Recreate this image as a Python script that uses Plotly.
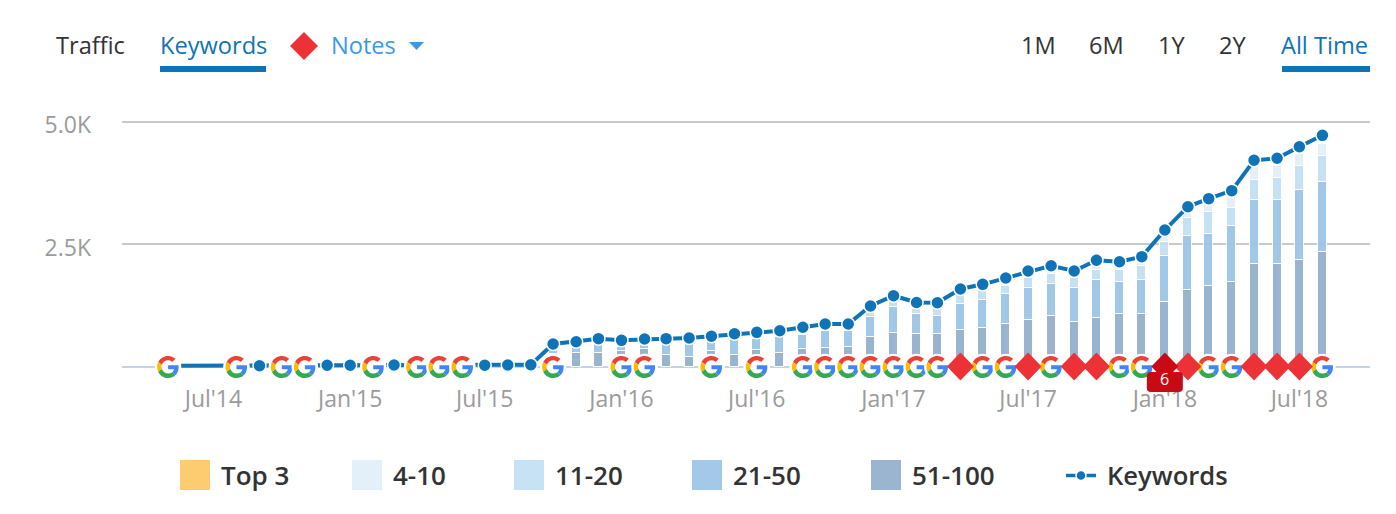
import base64
import plotly.graph_objects as go

W, H = 1396, 514
L, R, T, B = 122, 26, 100, 131

months = [f"{y}-{m:02d}-01" for y in range(2014, 2019) for m in range(1, 13)][4:56]

keywords = [20, 20, 20, 20, 20, 20, 25, 30,
            30, 30, 35, 30, 30, 30, 30, 35, 40, 464, 511, 573,
            540, 566, 573, 587, 622, 675, 703, 736, 806, 873, 873, 1241,
            1452, 1313, 1309, 1589, 1685, 1814, 1957, 2065, 1957, 2176, 2147, 2250,
            2795, 3272, 3436, 3600, 4221, 4262, 4499, 4732]

lead = [0] * 17
top3 = [0] * 52
r4_10 = lead + [0, 0, 0,
                0, 0, 0, 0, 0, 0, 0, 0, 0, 0, 0, 27,
                27, 41, 41, 48, 41, 55, 55, 55, 55, 96, 68, 82,
                137, 123, 150, 219, 273, 246, 246, 246]
r11_20 = lead + [0, 30, 30,
                 30, 20, 0, 0, 0, 0, 0, 0, 0, 0, 0, 96,
                 123, 96, 137, 184, 178, 164, 205, 205, 205, 205, 246, 287,
                 287, 369, 451, 369, 410, 451, 492, 533]
r21_50 = lead + [100, 102, 184,
                 89, 96, 225, 287, 178, 328, 219, 328, 287, 342, 328, 410,
                 533, 410, 369, 533, 574, 615, 656, 656, 697, 779, 656, 697,
                 943, 1106, 1065, 1147, 1311, 1311, 1434, 1434]
r51_100 = lead + [250, 287, 273,
                  321, 355, 232, 191, 328, 232, 342, 273, 355, 382, 396, 601,
                  683, 669, 669, 751, 792, 874, 956, 1038, 915, 997, 1079, 1079,
                  1325, 1571, 1653, 1735, 2104, 2104, 2186, 2350]

google_dates = ["2014-05-01", "2014-08-01", "2014-10-01", "2014-11-01", "2015-02-01", "2015-04-01",
                "2015-05-01", "2015-06-01", "2015-10-01", "2016-01-01", "2016-02-01", "2016-05-01",
                "2016-07-01", "2016-09-01", "2016-10-01", "2016-11-01", "2016-12-01", "2017-01-01",
                "2017-02-01", "2017-03-01", "2017-05-01", "2017-06-01", "2017-08-01", "2017-11-01",
                "2017-12-01", "2018-03-01", "2018-04-01", "2018-08-01"]
note_dates = ["2017-04-01", "2017-07-01", "2017-09-01", "2017-10-01", "2018-02-01",
              "2018-05-01", "2018-06-01", "2018-07-01"]
badge_date = "2018-01-01"
badge_text = "6"

legend_items = [("Top 3", "#FDCC70", 180), ("4-10", "#E3F0F9", 352), ("11-20", "#C7E1F5", 514),
                ("21-50", "#A3C8E9", 692), ("51-100", "#9BB5D0", 871)]
bar_series = [("51-100", r51_100, "#93AFCC"), ("21-50", r21_50, "#9CC4E7"),
              ("11-20", r11_20, "#C3DFF4"), ("4-10", r4_10, "#E1EFF8"),
              ("Top 3", top3, "#FDCC70")]

BLUE = "#0F73B8"
FONT = "Open Sans"

G_SVG = ('<svg xmlns="http://www.w3.org/2000/svg" viewBox="-6 -6 60 60" width="120" height="120">'
         '<circle cx="24" cy="24" r="29" fill="#fff"/>'
         '<path fill="#EA4335" d="M24 9.5c3.54 0 6.71 1.22 9.21 3.6l6.85-6.85C35.9 2.38 30.47 0 24 0 14.62 0 6.51 5.38 2.56 13.22l7.98 6.19C12.43 13.72 17.74 9.5 24 9.5z"/>'
         '<path fill="#4285F4" d="M46.98 24.55c0-1.57-.15-3.09-.38-4.55H24v9.02h12.94c-.58 2.96-2.26 5.48-4.78 7.18l7.73 6c4.51-4.18 7.09-10.36 7.09-17.65z"/>'
         '<path fill="#FBBC05" d="M10.53 28.59c-.48-1.45-.76-2.99-.76-4.59s.27-3.14.76-4.59l-7.98-6.19C.92 16.46 0 20.12 0 24c0 3.88.92 7.54 2.56 10.78l7.97-6.19z"/>'
         '<path fill="#34A853" d="M24 48c6.48 0 11.93-2.13 15.89-5.81l-7.73-6c-2.15 1.45-4.92 2.3-8.16 2.3-6.26 0-11.57-4.22-13.47-9.91l-7.98 6.19C6.51 42.62 14.62 48 24 48z"/>'
         '</svg>')


def diamond_svg(color):
    return ('<svg xmlns="http://www.w3.org/2000/svg" viewBox="0 0 100 100" width="120" height="120">'
            f'<polygon points="50,0 100,50 50,100 0,50" fill="{color}"/></svg>')


def uri(svg):
    return "data:image/svg+xml;base64," + base64.b64encode(svg.encode()).decode()


def px(x):
    return (x - L) / (W - L - R)


def py(y):
    return 1 - (y - T) / (H - T - B)


PX_MS = 86400000 / 0.7431   # ms per pixel on the date axis
PX_VAL = 20.45              # value per pixel on the y axis
BAR_W = 9 * PX_MS

fig = go.Figure()
for name, vals, col in bar_series:
    fig.add_trace(go.Bar(x=months, y=vals, name=name, width=BAR_W, opacity=0.93,
                         marker=dict(color=col, line=dict(color="#fff", width=1))))

hidden = {"2014-06-01", "2014-07-01"}
fig.add_trace(go.Scatter(x=months, y=keywords, name="Keywords", mode="lines+markers",
                         line=dict(color=BLUE, width=4),
                         marker=dict(color=BLUE, opacity=1, line=dict(color="#fff", width=1.5),
                                     size=[0 if m in hidden else 13 for m in months])))

images = []
for d in google_dates:
    images.append(dict(source=uri(G_SVG), xref="x", yref="y", x=d, y=-5,
                       sizex=27.5 * PX_MS, sizey=27.5 * PX_VAL, xanchor="center", yanchor="middle",
                       sizing="stretch", layer="above"))
for d in note_dates + [badge_date]:
    col = "#C90A14" if d == badge_date else "#EC3237"
    images.append(dict(source=uri(diamond_svg(col)), xref="x", yref="y", x=d, y=5,
                       sizex=27 * PX_MS, sizey=28 * PX_VAL, xanchor="center", yanchor="middle",
                       sizing="stretch", layer="above"))
# header diamond
images.append(dict(source=uri(diamond_svg("#EC3237")), xref="paper", yref="paper", x=px(290), y=py(32),
                   sizex=28 / (W - L - R), sizey=28 / (H - T - B), xanchor="left", yanchor="top",
                   sizing="stretch", layer="above"))

shapes = [
    dict(type="rect", xref="paper", yref="paper", x0=px(160), x1=px(266), y0=py(66), y1=py(72),
         fillcolor=BLUE, line_width=0),
    dict(type="rect", xref="paper", yref="paper", x0=px(1282), x1=px(1370), y0=py(66), y1=py(72),
         fillcolor=BLUE, line_width=0),
    dict(type="path", xref="paper", yref="paper",
         path=f"M {px(409)} {py(42)} L {px(424)} {py(42)} L {px(416.5)} {py(50)} Z",
         fillcolor="#3A9AE3", line_width=0),
    # note-count badge, anchored to its date
    dict(type="path", xref="x", xsizemode="pixel", xanchor=badge_date, yref="paper",
         ysizemode="pixel", yanchor=py(382),
         path="M -14 -10 L 14 -10 Q 18 -10 18 -6 L 18 6 Q 18 10 14 10 L -14 10 Q -18 10 -18 6 L -18 -6 Q -18 -10 -14 -10 Z",
         fillcolor="#C90A14", line_width=0, layer="above"),
    # legend line icon
    dict(type="line", xref="paper", yref="paper", x0=px(1066), x1=px(1096), y0=py(475.5), y1=py(475.5),
         line=dict(color=BLUE, width=3.5)),
    dict(type="circle", xref="paper", yref="paper", x0=px(1076), x1=px(1086), y0=py(480.5), y1=py(470.5),
         fillcolor=BLUE, line=dict(color="#fff", width=1.5)),
]

annots = []


def text(s, x, y, color, size=23.6, anchor="left", weight=None, xref="paper", yref="paper"):
    f = dict(family=FONT, size=size, color=color)
    if weight:
        f["weight"] = weight
    annots.append(dict(text=s, x=x, y=y, xref=xref, yref=yref, xanchor=anchor, yanchor="middle",
                       showarrow=False, font=f))


text("Traffic", px(54), py(45), "#333333")
text("Keywords", px(158), py(45), BLUE)
text("Notes", px(329), py(45), "#3A9AE3")
text("1M", px(1019), py(45), "#333333")
text("6M", px(1087), py(45), "#333333")
text("1Y", px(1156), py(45), "#333333")
text("2Y", px(1217), py(45), "#333333")
text("All Time", px(1279), py(45), BLUE)
text(badge_text, badge_date, py(379), "#ffffff", size=16, anchor="center", xref="x")

for name, col, x0 in legend_items:
    shapes.append(dict(type="rect", xref="paper", yref="paper", x0=px(x0), x1=px(x0 + 30),
                       y0=py(460), y1=py(490), fillcolor=col, line_width=0))
    text(name, px(x0 + 39), py(475), "#333333", size=26, weight=600)
text("Keywords", px(1105), py(475), "#333333", size=25.6, weight=600)

fig.update_layout(
    width=W, height=H, margin=dict(l=L, r=R, t=T, b=B),
    barmode="stack", bargap=0, showlegend=False, hovermode=False,
    plot_bgcolor="#fff", paper_bgcolor="#fff",
    images=images, shapes=shapes, annotations=annots,
    xaxis=dict(type="date", range=["2014-02-28", "2018-10-04"], tickvals=months[2::6],
               tickformat="%b'%y", showgrid=False, zeroline=False, showline=False, ticks="",
               tickfont=dict(family=FONT, size=23, color="#9B9B9B")),
    yaxis=dict(range=[-333, 5454], tickvals=[0, 2500, 5000], ticktext=["", "2.5K", "5.0K"],
               showgrid=True, gridcolor="#C9C9C9", gridwidth=1.5, zeroline=True,
               zerolinecolor="#C5D3E5", zerolinewidth=2, showline=False, ticks="",
               ticklabelstandoff=30, ticklabelshift=3,
               tickfont=dict(family=FONT, size=23, color="#9B9B9B")),
)

fig.write_html("out.html", post_script="document.body.style.margin='0';",
               config=dict(displayModeBar=False))
